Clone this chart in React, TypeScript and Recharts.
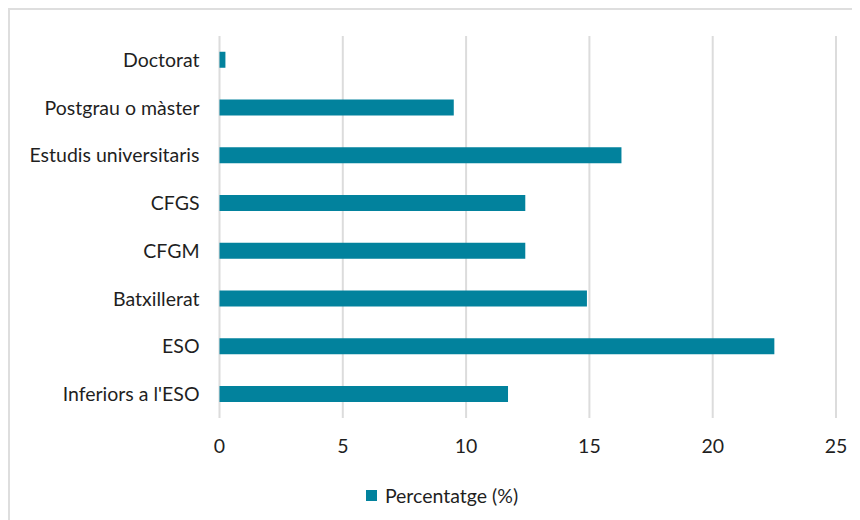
import { BarChart, Bar, XAxis, YAxis, CartesianGrid, Legend } from 'recharts'

const levels = [
  'Doctorat',
  'Postgrau o màster',
  'Estudis universitaris',
  'CFGS',
  'CFGM',
  'Batxillerat',
  'ESO',
  "Inferiors a l'ESO",
]
const percentages = [0.24, 9.5, 16.3, 12.4, 12.4, 14.9, 22.5, 11.7]
const xTicks = [0, 5, 10, 15, 20, 25]
const seriesName = 'Percentatge (%)'

const data = levels.map((level, i) => ({ level, value: percentages[i] }))

const BAR = '#02829D'
const FONT = 'Lato, "Open Sans", sans-serif'
const TEXT = '#1f1f1f'
const SIZE = 19.5

function LegendBox() {
  return (
    <div
      style={{
        display: 'flex',
        justifyContent: 'center',
        alignItems: 'center',
        height: 26,
        paddingLeft: 14,
        fontFamily: FONT,
        fontSize: SIZE,
        color: TEXT,
      }}
    >
      <span style={{ width: 11, height: 11, background: BAR, marginRight: 8, display: 'inline-block' }} />
      {seriesName}
    </div>
  )
}

export default function App() {
  return (
    <div
      style={{
        width: 850,
        height: 510,
        borderTop: '2px solid #dedede',
        borderLeft: '2px solid #dedede',
        background: '#fff',
      }}
    >
      <BarChart
        width={850}
        height={510}
        data={data}
        layout="vertical"
        margin={{ top: 26, right: 24, left: 10, bottom: 12 }}
        barCategoryGap="33%"
      >
        <CartesianGrid horizontal={false} stroke="#dcdcdc" strokeWidth={2} />
        <XAxis
          type="number"
          domain={[0, 25]}
          ticks={xTicks}
          axisLine={false}
          tickLine={false}
          tickMargin={15}
          height={64}
          tick={{ fill: TEXT, fontSize: SIZE, fontFamily: FONT }}
        />
        <YAxis
          type="category"
          dataKey="level"
          width={199.5}
          axisLine={false}
          tickLine={false}
          tickMargin={14}
          interval={0}
          tick={{ fill: TEXT, fontSize: SIZE, fontFamily: FONT }}
        />
        <Legend verticalAlign="bottom" wrapperStyle={{ left: 0, width: 850 }} content={() => <LegendBox />} />
        <Bar dataKey="value" name={seriesName} fill={BAR} isAnimationActive={false} />
      </BarChart>
    </div>
  )
}
